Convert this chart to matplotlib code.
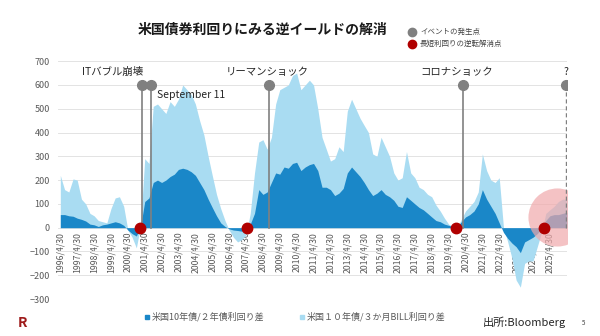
import pandas as pd
import matplotlib
matplotlib.use('Agg')
import matplotlib.pyplot as plt
from matplotlib.lines import Line2D

plt.rcParams['font.family'] = ['Noto Sans CJK JP', 'DejaVu Sans']

# quarterly month-end points starting 1996/4/30
dates = pd.date_range('1996-04-30', periods=121, freq='3ME')

# US 10y - 2y spread (bp)
spread_2y = [
    55, 55, 50,
    48, 40, 35, 28,
    15, 12, 5, 12,
    15, 20, 25, 20,
    10, -10, -25, -35,
    5, 110, 125, 190,
    200, 190, 200, 215,
    225, 245, 250, 245,
    235, 220, 190, 160,
    120, 85, 50, 20,
    5, -5, -10, -12,
    -15, 0, 15, 60,
    160, 140, 150, 190,
    230, 225, 255, 250,
    270, 275, 240, 255,
    265, 270, 240, 170,
    170, 160, 135, 145,
    165, 230, 255, 235,
    215, 190, 160, 135,
    145, 160, 140, 130,
    115, 90, 85, 130,
    115, 100, 85, 75,
    60, 45, 30, 25,
    15, 10, 5, 0,
    25, 45, 55, 70,
    100, 160, 120, 90,
    60, 20, -20, -45,
    -65, -80, -105, -60,
    -50, -40, -25, -5,
    30, 50, 55, 55,
    60, 65,
]

# US 10y - 3m bill spread (bp)
spread_3m = [
    220, 160, 150,
    205, 200, 120, 100,
    60, 50, 30, 25,
    20, 80, 125, 130,
    90, -10, -40, -85,
    10, 290, 270, 510,
    520, 500, 480, 530,
    510, 540, 600, 580,
    560, 520, 450, 390,
    300, 220, 140, 80,
    30, -10, -40, -60,
    -50, -30, 60, 230,
    360, 370, 330, 380,
    520, 580, 590, 600,
    640, 650, 580, 600,
    620, 600, 500, 380,
    330, 280, 290, 340,
    320, 490, 540, 500,
    460, 430, 400, 310,
    300, 380, 340, 300,
    230, 200, 210, 320,
    230, 210, 170, 160,
    140, 130, 95, 70,
    40, 15, 5, 0,
    35, 70, 90, 110,
    150, 310, 240, 200,
    190, 210, 0, -60,
    -130, -220, -250, -150,
    -140, -140, -80, -20,
    60, 75, 90, 110,
    120, 120,
]

years = list(range(1996, 2026))
tick_labels = [f'{y}/4/30' for y in years]

events = [
    ('2001-03-01', 'ITバブル崩壊'),
    ('2001-09-11', 'September 11'),
    ('2008-09-15', 'リーマンショック'),
    ('2020-03-15', 'コロナショック'),
]
unwind_dates = ['2001-01-20', '2007-06-01', '2019-10-10', '2024-12-20']

dark = '#1a87c8'
light = '#a9dcf2'
grey = '#808080'
red = '#b00000'

fig = plt.figure(figsize=(6, 3.36), dpi=100)
ax = fig.add_axes([0.097, 0.110, 0.848, 0.708])

# x axis sits on the zero line (do this before setting tick labels)
ax.spines['bottom'].set_position(('data', 0))
for s in ax.spines.values():
    s.set_visible(False)

ax.fill_between(dates, 0, spread_3m, color=light, lw=0, zorder=1)
ax.fill_between(dates, 0, spread_2y, color=dark, lw=0, zorder=2)

# event lines
for d, label in events:
    ax.plot([pd.Timestamp(d)] * 2, [0, 600], color=grey, lw=1.2, zorder=4)
    ax.plot(pd.Timestamp(d), 600, 'o', color=grey, ms=7, zorder=5)
q_date = pd.Timestamp('2026-04-20')
ax.plot([q_date] * 2, [0, 600], color=grey, lw=1.0, ls=(0, (3, 2)), zorder=4)
ax.plot(q_date, 600, 'o', color=grey, ms=7, zorder=5)

txt = dict(fontsize=7.5, color='#262626', va='center')
ax.text(pd.Timestamp('1999-06-01'), 656, 'ITバブル崩壊', ha='center', **txt)
ax.text(pd.Timestamp('2002-01-20'), 557, 'September 11', ha='left', **txt)
ax.text(pd.Timestamp('2008-08-01'), 656, 'リーマンショック', ha='center', **txt)
ax.text(pd.Timestamp('2019-10-25'), 656, 'コロナショック', ha='center', **txt)
ax.text(q_date, 656, '?', ha='center', **txt)

# pink highlight
ax.scatter([pd.Timestamp('2025-09-25')], [44], s=1750, color='#f0a9ab',
           alpha=0.7, lw=0, zorder=3)

# red dots
for d in unwind_dates:
    ax.plot(pd.Timestamp(d), 0, 'o', color=red, ms=7.5, zorder=6)

ax.set_ylim(-300, 700)
ax.set_yticks(range(-300, 701, 100))
ax.set_xlim(pd.Timestamp('1996-03-15'), pd.Timestamp('2026-05-05'))
ax.set_xticks([pd.Timestamp(f'{y}-04-30') for y in years])
ax.set_xticklabels(tick_labels)
ax.tick_params(axis='x', length=0, pad=3, labelrotation=90, labelsize=6.3,
               colors='#595959')
ax.tick_params(axis='y', labelsize=6.5, colors='#595959', length=0, pad=6)
ax.grid(axis='y', color='#e3e3e3', lw=0.7, zorder=0)
ax.set_axisbelow(True)

# title and legends
fig.text(0.437, 0.91, '米国債券利回りにみる逆イールドの解消', fontsize=10,
         ha='center', va='center', fontweight='bold', color='#1a1a1a')
for yy, c, label in [(0.905, grey, 'イベントの発生点'),
                     (0.869, red, '長短利回りの逆転解消点')]:
    fig.add_artist(Line2D([0.687], [yy], marker='o', color=c, ms=6,
                          transform=fig.transFigure))
    fig.text(0.700, yy, label, fontsize=5.4, color='#404040', va='center')

for x0, c, label in [(0.245, dark, '米国10年債/２年債利回り差'),
                     (0.503, light, '米国１０年債/３か月BILL利回り差')]:
    fig.add_artist(Line2D([x0], [0.057], marker='s', color=c, ms=3.5, lw=0,
                          transform=fig.transFigure))
    fig.text(x0 + 0.008, 0.057, label, fontsize=6.5, color='#595959', va='center')

fig.text(0.805, 0.04, '出所:Bloomberg', fontsize=8, color='#262626', va='center')
fig.text(0.97, 0.04, '5', fontsize=4.5, color='#404040', va='center')
fig.text(0.038, 0.04, 'R', fontsize=10, color='#9e1b1b', fontweight='bold',
         va='center', ha='center')

fig.savefig('out.png', dpi=100)
